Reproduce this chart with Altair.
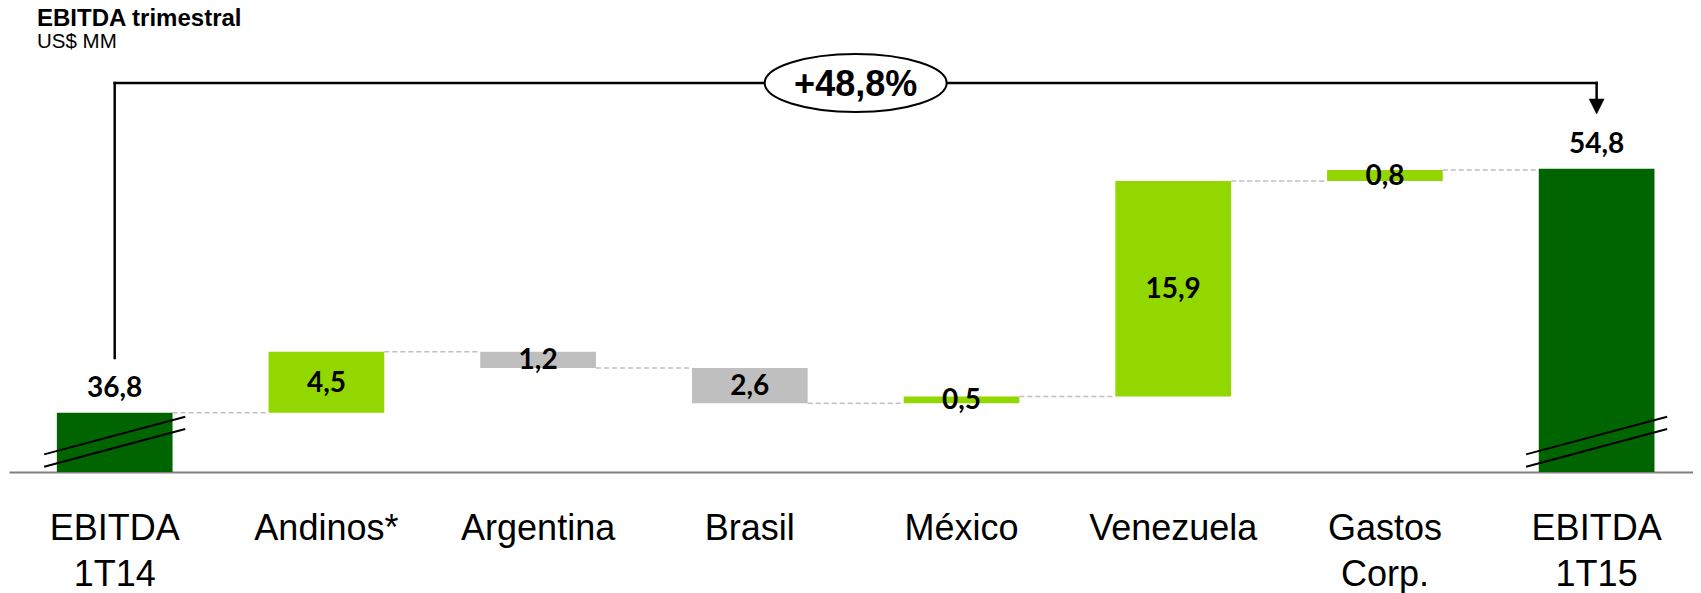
import altair as alt
import pandas as pd

# ---------------- data ----------------
categories = ["EBITDA 1T14", "Andinos*", "Argentina", "Brasil", "México",
              "Venezuela", "Gastos Corp.", "EBITDA 1T15"]
values = [36.8, 4.5, -1.2, -2.6, 0.5, 15.9, 0.8, 54.8]
is_total = [True, False, False, False, False, False, False, True]
growth_text = "+48,8%"

title_text = "EBITDA trimestral"
subtitle_text = "US$ MM"

# visible part of the value axis (axis is broken under the total bars)
Y_MIN = 32.426
Y_MAX = 62.819

# bracket annotation levels (value units)
ARROW_Y = 61.12
ARROW_FROM = 40.84
ARROW_HEAD_TOP = 59.94
ARROW_HEAD_MID = 59.39

# axis-break slashes, relative to Y_MIN
BREAK_LINES = [(1.30, 4.08), (0.39, 3.17)]

# ---------------- layout ----------------
W, H = 1684, 412
PI, PO, AL = 0.4535, 0.204, 0.554
STEP = W / (len(categories) - PI + 2 * PO)

GREEN_DARK = "#006400"
GREEN_LIGHT = "#92D800"
GREY = "#BFBFBF"

# ---------------- tables ----------------
rows = []
running = 0.0
for cat, v, tot in zip(categories, values, is_total):
    if tot:
        start, end = Y_MIN, v
        running = v
        kind = "total"
    else:
        start, end = running, running + v
        running = end
        kind = "up" if v >= 0 else "down"
    rows.append(dict(cat=cat, start=start, end=end, mid=(start + end) / 2,
                     kind=kind, label=f"{abs(v):.1f}".replace(".", ","), total=tot))
df = pd.DataFrame(rows)

conn = pd.DataFrame([dict(frm=rows[i]["cat"], to=rows[i + 1]["cat"], level=rows[i]["end"])
                     for i in range(len(rows) - 1)])

brk = pd.DataFrame([dict(cat=r["cat"], lo=Y_MIN + lo, hi=Y_MIN + hi)
                    for r in rows if r["total"] for lo, hi in BREAK_LINES])

first, last = categories[0], categories[-1]
arrow = pd.DataFrame([
    dict(a=first, b=first, y1=ARROW_FROM, y2=ARROW_Y),
    dict(a=first, b=last, y1=ARROW_Y, y2=ARROW_Y),
    dict(a=last, b=last, y1=ARROW_Y, y2=ARROW_HEAD_TOP),
])
head = pd.DataFrame([dict(cat=last, y=ARROW_HEAD_MID)])
mid_cat = categories[len(categories) // 2 - 1]
badge = pd.DataFrame([dict(cat=mid_cat, y=ARROW_Y, text=growth_text)])

# ---------------- scales ----------------
x_scale = alt.Scale(domain=categories, paddingInner=PI, paddingOuter=PO, align=AL)
y_scale = alt.Scale(domain=[Y_MIN, Y_MAX], nice=False, zero=False)

x_axis = alt.Axis(title=None, labelExpr="split(datum.label, ' ')",
                  labelFont="Liberation Sans", labelFontSize=36, labelColor="black",
                  labelPadding=39.6, ticks=False, tickSize=0, labelAngle=0,
                  labelBaseline="top", labelLineHeight=46, labelLimit=400,
                  labelOverlap=False, domainColor="#808080", domainWidth=2, grid=False)


def X(field, **kw):
    return alt.X(field, scale=x_scale, axis=x_axis, **kw)


def Y(field):
    return alt.Y(field, scale=y_scale, axis=None)


bars = alt.Chart(df).mark_bar().encode(
    x=X("cat:N"),
    y=Y("start:Q"),
    y2="end:Q",
    color=alt.Color("kind:N", scale=alt.Scale(domain=["total", "up", "down"],
                                              range=[GREEN_DARK, GREEN_LIGHT, GREY]),
                    legend=None),
)

label_font = dict(font="Lato", fontWeight="bold", fontSize=28, color="black")

total_labels = alt.Chart(df).transform_filter("datum.total").mark_text(
    baseline="alphabetic", dy=-15.7, **label_font).encode(
    x=X("cat:N"), y=Y("end:Q"), text="label:N",
)

delta_labels = alt.Chart(df).transform_filter("!datum.total").mark_text(
    baseline="middle", dy=1.6, **label_font).encode(
    x=X("cat:N"), y=Y("mid:Q"), text="label:N",
)

connectors = alt.Chart(conn).mark_rule(color=GREY, strokeDash=[5, 3], strokeWidth=1.5).encode(
    x=X("frm:N", bandPosition=1),
    x2=alt.X2("to", bandPosition=0),
    y=Y("level:Q"),
)

breaks = alt.Chart(brk).mark_rule(color="black", strokeWidth=2,
                                  xOffset=-12.7, x2Offset=12.7).encode(
    x=X("cat:N", bandPosition=0),
    x2=alt.X2("cat", bandPosition=1),
    y=Y("lo:Q"),
    y2="hi:Q",
)

bracket = alt.Chart(arrow).mark_rule(color="black", strokeWidth=2.5, strokeCap="square").encode(
    x=X("a:N", bandPosition=0.5),
    x2=alt.X2("b", bandPosition=0.5),
    y=Y("y1:Q"),
    y2="y2:Q",
)

arrow_head = alt.Chart(head).mark_point(
    shape="M -1 -1 L 1 -1 L 0 1 Z", size=225, filled=True, fill="black",
    stroke="black", strokeWidth=0.5, opacity=1).encode(
    x=X("cat:N"), y=Y("y:Q"),
)

ellipse = alt.Chart(badge).mark_point(
    shape="M -1 0 A 1 0.319 0 1 0 1 0 A 1 0.319 0 1 0 -1 0 Z",
    size=182 ** 2, filled=True, fill="white", stroke="black", strokeWidth=2,
    opacity=1, xOffset=STEP / 2).encode(
    x=X("cat:N"), y=Y("y:Q"),
)

badge_text = alt.Chart(badge).mark_text(
    font="Liberation Sans", fontWeight="bold", fontSize=36, color="black",
    baseline="middle", dy=2, xOffset=STEP / 2).encode(
    x=X("cat:N"), y=Y("y:Q"), text="text:N",
)

chart = alt.layer(
    bars, connectors, breaks, total_labels, delta_labels,
    bracket, arrow_head, ellipse, badge_text,
).properties(
    width=W, height=H,
    background="white",
    autosize=alt.AutoSizeParams(type="none"),
    padding={"left": 1, "top": 52, "right": 0, "bottom": 121},
    title=alt.TitleParams(
        text=title_text, subtitle=subtitle_text, anchor="start", frame="group",
        dx=28, dy=10, offset=8, font="Liberation Sans", fontSize=24, fontWeight="bold",
        color="black", subtitleFont="Liberation Sans", subtitleFontSize=20.5,
        subtitleColor="black", subtitlePadding=0.5,
    ),
).configure_view(stroke=None)

chart.save("out.html", embed_options={"renderer": "svg", "actions": False})
